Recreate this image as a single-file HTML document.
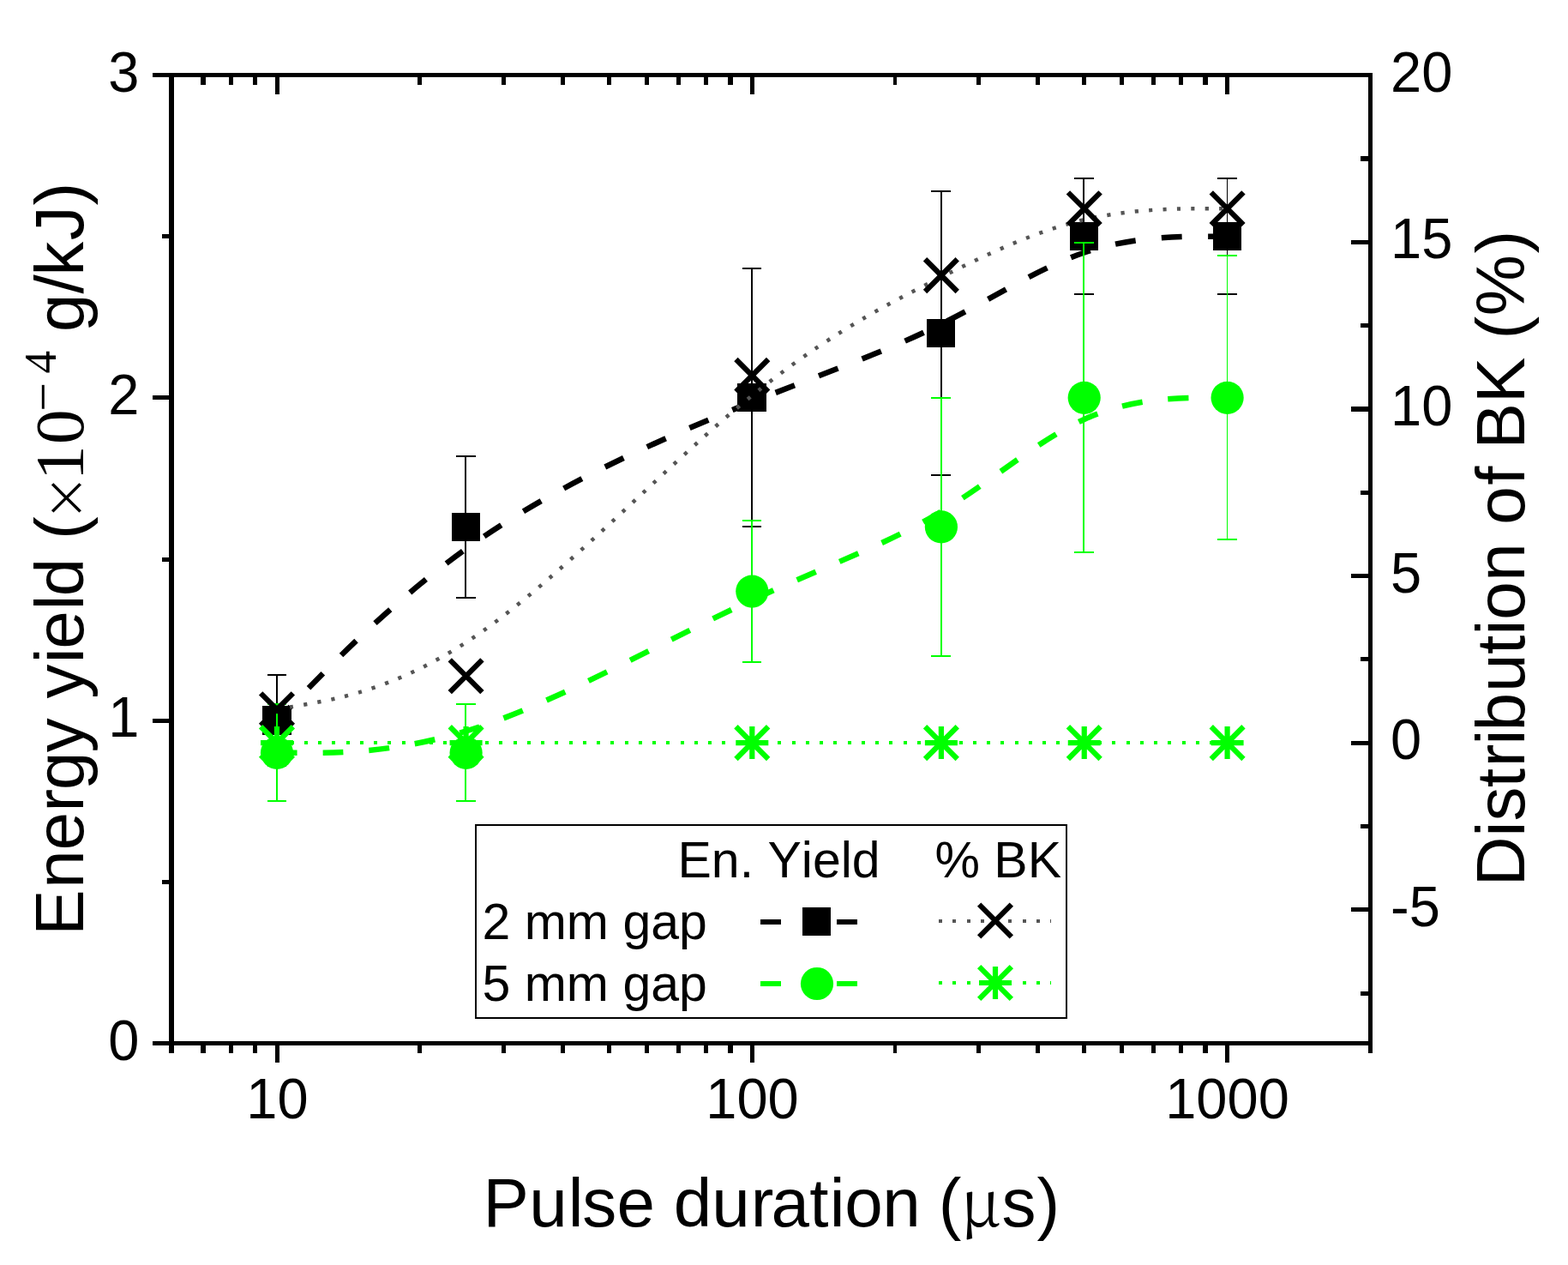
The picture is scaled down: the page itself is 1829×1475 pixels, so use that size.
<!DOCTYPE html>
<html lang="en">
<head>
<meta charset="utf-8">
<title>Energy yield and distribution of BK vs pulse duration</title>
<style>
html,body{margin:0;padding:0;background:#fff;}
body{width:1829px;height:1475px;overflow:hidden;}
svg{display:block;}
text{font-kerning:none;font-variant-ligatures:none;}
</style>
</head>
<body>
<svg width="1829" height="1475" viewBox="0 0 1829 1475" role="img" aria-label="Energy yield and distribution of BK versus pulse duration">
<rect width="1829" height="1475" fill="#fff"/>
<g id="series-2mm-yield">
<path d="M323.00,840.17C323.00,840.17 323.00,840.17 359.76,802.53C396.53,764.90 470.05,689.63 562.44,626.91C654.82,564.19 766.06,514.01 858.44,476.38C950.83,438.74 1024.35,413.66 1088.93,382.29C1153.50,350.93 1209.12,313.30 1264.74,294.48C1320.36,275.67 1375.98,275.67 1403.79,275.67C1431.60,275.67 1431.60,275.67 1431.60,275.67" fill="none" stroke="#000" stroke-width="6.5" stroke-dasharray="24 30.21" stroke-dashoffset="1.2"/>
<path d="M322,787H324V893H322ZM312,786H334V788H312ZM312,892H334V894H312ZM542,532H544V697H542ZM532,531H555V533H532ZM532,696H555V698H532ZM876,313H878V614H876ZM866,312H888V314H866ZM866,613H888V615H866ZM1097,223H1099V554H1097ZM1086,222H1109V224H1086ZM1086,553H1109V555H1086ZM1263,208H1265V343H1263ZM1253,207H1276V209H1253ZM1253,342H1276V344H1253ZM1431,208H1432V343H1431ZM1420,207H1443V209H1420ZM1420,342H1443V344H1420Z" fill="#000" shape-rendering="crispEdges"/>
<rect x="306" y="823" width="34" height="34" fill="#000" shape-rendering="crispEdges"/>
<rect x="527" y="598" width="33" height="33" fill="#000" shape-rendering="crispEdges"/>
<rect x="860" y="447" width="34" height="33" fill="#000" shape-rendering="crispEdges"/>
<rect x="1081" y="372" width="33" height="33" fill="#000" shape-rendering="crispEdges"/>
<rect x="1248" y="259" width="33" height="33" fill="#000" shape-rendering="crispEdges"/>
<rect x="1415" y="259" width="33" height="33" fill="#000" shape-rendering="crispEdges"/>
</g>
<g id="series-5mm-yield">
<path d="M323.00,877.80C323.00,877.80 323.00,877.80 359.76,877.80C396.53,877.80 470.05,877.80 562.44,846.44C654.82,815.08 766.06,752.36 858.44,708.45C950.83,664.54 1024.35,639.46 1088.93,601.82C1153.50,564.19 1209.12,514.01 1264.74,488.92C1320.36,463.83 1375.98,463.83 1403.79,463.83C1431.60,463.83 1431.60,463.83 1431.60,463.83" fill="none" stroke="#00ff00" stroke-width="6.5" stroke-dasharray="24 30" stroke-dashoffset="0.3"/>
<path d="M322,821H324V934H322ZM312,820H334V822H312ZM312,933H334V935H312ZM542,821H544V934H542ZM532,820H555V822H532ZM532,933H555V935H532ZM876,607H878V772H876ZM866,606H888V608H866ZM866,771H888V773H866ZM1097,464H1099V765H1097ZM1086,463H1109V465H1086ZM1086,764H1109V766H1086ZM1263,283H1265V644H1263ZM1253,282H1276V284H1253ZM1253,643H1276V645H1253ZM1431,298H1432V629H1431ZM1420,297H1443V299H1420ZM1420,628H1443V630H1420Z" fill="#00ff00" shape-rendering="crispEdges"/>
<circle cx="323.0" cy="877.8" r="19.1" fill="#00ff00"/>
<circle cx="543.6" cy="877.8" r="19.1" fill="#00ff00"/>
<circle cx="877.3" cy="689.6" r="19.1" fill="#00ff00"/>
<circle cx="1097.9" cy="614.4" r="19.1" fill="#00ff00"/>
<circle cx="1264.7" cy="463.8" r="19.1" fill="#00ff00"/>
<circle cx="1431.6" cy="463.8" r="19.1" fill="#00ff00"/>
</g>
<g id="series-2mm-bk">
<path d="M323.00,827.19C323.00,827.19 323.00,827.19 359.76,820.70C396.53,814.21 470.05,801.24 562.44,736.35C654.82,671.47 766.06,554.67 858.44,476.81C950.83,398.95 1024.35,360.02 1088.93,327.57C1153.50,295.13 1209.12,269.18 1264.74,256.20C1320.36,243.22 1375.98,243.22 1403.79,243.22C1431.60,243.22 1431.60,243.22 1431.60,243.22" fill="none" stroke="#555555" stroke-width="4.5" stroke-dasharray="4.2 12.175" stroke-dashoffset="1.0"/>
<path d="M304.15,808.34L341.85,846.04M304.15,846.04L341.85,808.34" stroke="#000" stroke-width="6.2" fill="none"/>
<path d="M524.73,769.41L562.43,807.11M524.73,807.11L562.43,769.41" stroke="#000" stroke-width="6.2" fill="none"/>
<path d="M858.45,419.03L896.15,456.73M858.45,456.73L896.15,419.03" stroke="#000" stroke-width="6.2" fill="none"/>
<path d="M1079.03,302.24L1116.73,339.94M1079.03,339.94L1116.73,302.24" stroke="#000" stroke-width="6.2" fill="none"/>
<path d="M1245.89,224.37L1283.59,262.07M1245.89,262.07L1283.59,224.37" stroke="#000" stroke-width="6.2" fill="none"/>
<path d="M1412.75,224.37L1450.45,262.07M1412.75,262.07L1450.45,224.37" stroke="#000" stroke-width="6.2" fill="none"/>
</g>
<g id="series-5mm-bk">
<path d="M323.0,866.1L1431.6,866.1" fill="none" stroke="#00ff00" stroke-width="4" stroke-dasharray="4 12.25" stroke-dashoffset="0.6" shape-rendering="crispEdges"/>
<path d="M304.15,847.27L341.85,884.97M304.15,884.97L341.85,847.27M304.00,866.12h38M323.00,847.12v38" stroke="#00ff00" stroke-width="6.2" fill="none"/>
<path d="M524.73,847.27L562.43,884.97M524.73,884.97L562.43,847.27M524.58,866.12h38M543.58,847.12v38" stroke="#00ff00" stroke-width="6.2" fill="none"/>
<path d="M858.45,847.27L896.15,884.97M858.45,884.97L896.15,847.27M858.30,866.12h38M877.30,847.12v38" stroke="#00ff00" stroke-width="6.2" fill="none"/>
<path d="M1079.03,847.27L1116.73,884.97M1079.03,884.97L1116.73,847.27M1078.88,866.12h38M1097.88,847.12v38" stroke="#00ff00" stroke-width="6.2" fill="none"/>
<path d="M1245.89,847.27L1283.59,884.97M1245.89,884.97L1283.59,847.27M1245.74,866.12h38M1264.74,847.12v38" stroke="#00ff00" stroke-width="6.2" fill="none"/>
<path d="M1412.75,847.27L1450.45,884.97M1412.75,884.97L1450.45,847.27M1412.60,866.12h38M1431.60,847.12v38" stroke="#00ff00" stroke-width="6.2" fill="none"/>
</g>
<g id="legend">
<rect x="555" y="962" width="689" height="225" fill="#fff" stroke="#000" stroke-width="2" shape-rendering="crispEdges"/>
<g font-family="'Liberation Sans', Arial, Helvetica, sans-serif" font-size="59" fill="#000">
<text x="790.5" y="1023">En. Yield</text>
<text x="1090.5" y="1023">% BK</text>
<text x="562.5" y="1095">2 mm gap</text>
<text x="562.5" y="1167">5 mm gap</text>
</g>
<path d="M887,1075h24M976,1075h24" stroke="#000" stroke-width="6" fill="none" shape-rendering="crispEdges"/>
<rect x="936" y="1058" width="33" height="33" fill="#000" shape-rendering="crispEdges"/>
<path d="M887,1147h24M976,1147h24" stroke="#00ff00" stroke-width="6" fill="none" shape-rendering="crispEdges"/>
<circle cx="953.0" cy="1147.0" r="19.1" fill="#00ff00"/>
<path d="M1095,1074H1226.2" stroke="#555555" stroke-width="4" stroke-dasharray="4 12.25" fill="none" shape-rendering="crispEdges"/>
<path d="M1142.15,1054.65L1179.85,1092.35M1142.15,1092.35L1179.85,1054.65" stroke="#000" stroke-width="6.2" fill="none"/>
<path d="M1095,1146H1226.2" stroke="#00ff00" stroke-width="4" stroke-dasharray="4 12.25" fill="none" shape-rendering="crispEdges"/>
<path d="M1142.15,1127.15L1179.85,1164.85M1142.15,1164.85L1179.85,1127.15M1142.00,1146.00h38M1161.00,1127.00v38" stroke="#00ff00" stroke-width="6.2" fill="none"/>
</g>
<g id="axes" fill="#000" shape-rendering="crispEdges">
<path d="M178,85H1601V90H178ZM178,1214H1601V1219H178ZM197,85H203V1228H197ZM1596,85H1601V1228H1596ZM234,1214H240V1228H234ZM234,85H240V99H234ZM267,1214H272V1228H267ZM267,85H272V99H267ZM295,1214H300V1228H295ZM295,85H300V99H295ZM321,1214H326V1239H321ZM321,85H326V110H321ZM487,1214H492V1228H487ZM487,85H492V99H487ZM585,1214H590V1228H585ZM585,85H590V99H585ZM654,1214H659V1228H654ZM654,85H659V99H654ZM708,1214H713V1228H708ZM708,85H713V99H708ZM752,1214H757V1228H752ZM752,85H757V99H752ZM789,1214H794V1228H789ZM789,85H794V99H789ZM821,1214H826V1228H821ZM821,85H826V99H821ZM849,1214H855V1228H849ZM849,85H855V99H849ZM875,1214H880V1239H875ZM875,85H880V110H875ZM1042,1214H1046V1228H1042ZM1042,85H1046V99H1042ZM1139,1214H1144V1228H1139ZM1139,85H1144V99H1139ZM1208,1214H1213V1228H1208ZM1208,85H1213V99H1208ZM1262,1214H1267V1228H1262ZM1262,85H1267V99H1262ZM1306,1214H1311V1228H1306ZM1306,85H1311V99H1306ZM1343,1214H1348V1228H1343ZM1343,85H1348V99H1343ZM1375,1214H1380V1228H1375ZM1375,85H1380V99H1375ZM1403,1214H1409V1228H1403ZM1403,85H1409V99H1403ZM1429,1214H1434V1239H1429ZM1429,85H1434V110H1429ZM178,1214H200V1219H178ZM189,1026H200V1031H189ZM178,838H200V843H178ZM189,650H200V655H189ZM178,461H200V466H178ZM189,273H200V278H189ZM178,85H200V90H178ZM1587,1156H1598V1161H1587ZM1576,1058H1598V1063H1576ZM1587,961H1598V966H1587ZM1576,864H1598V869H1576ZM1587,766H1598V771H1587ZM1576,669H1598V674H1576ZM1587,572H1598V577H1587ZM1576,474H1598V480H1576ZM1587,377H1598V382H1587ZM1576,280H1598V285H1576ZM1587,182H1598V188H1587ZM1576,85H1598V90H1576Z"/>
</g>
<g font-family="'Liberation Sans', Arial, Helvetica, sans-serif" font-size="65" fill="#000" transform="scale(1,1.035)">
<text x="162.5" y="1194.0" text-anchor="end">0</text>
<text x="162.5" y="830.4" text-anchor="end">1</text>
<text x="162.5" y="466.8" text-anchor="end">2</text>
<text x="162.5" y="103.2" text-anchor="end">3</text>
<text x="323.5" y="1259.9" text-anchor="middle">10</text>
<text x="877.5" y="1259.9" text-anchor="middle">100</text>
<text x="1431.5" y="1259.9" text-anchor="middle">1000</text>
<text x="1622.0" y="103.2">20</text>
<text x="1622.0" y="291.3">15</text>
<text x="1622.0" y="479.3">10</text>
<text x="1622.0" y="667.4">5</text>
<text x="1622.0" y="855.5">0</text>
<text x="1622.0" y="1043.6">-5</text>
</g>
<g font-family="'Liberation Sans', Arial, Helvetica, sans-serif" font-size="80" fill="#000">
<text xml:space="preserve"><tspan x="563.5 617.2 662.7 679.2 719.6 763.4 785.7 830.3 875.7 899.4 944.3 967.7 985.3 1029.2 1072.6 1094.8" y="1430">Pulse duration (</tspan><tspan x="1120.3" y="1430" font-family="'Noto Serif CJK SC', 'Liberation Serif', serif" font-size="75">µ</tspan><tspan x="1168.5 1209.6" y="1430">s)</tspan></text>
<text transform="translate(1778,0) rotate(-90)" xml:space="preserve"><tspan x="-1033.3 -975.5 -957.6 -918.3 -894.2 -868.4 -852.4 -807.0 -763.1 -740.5 -722.7 -677.7 -634.0 -611.8 -565.8 -545.6 -523.4 -469.9 -417.7 -395.5 -368.2 -295.6" y="0">Distribution of BK (%)</tspan></text>
<text transform="translate(97,0) rotate(-90)" xml:space="preserve"><tspan x="-1090.7 -1035.8 -991.5 -946.4 -920.9 -877.3 -836.7 -814.5 -773.3 -756.7 -711.4 -695.3 -651.2 -629.0" y="0">Energy yield (</tspan><tspan x="-605.3" y="9.8" font-family="'Liberation Serif', 'Times New Roman', Times, serif" font-size="88" stroke="#fff" stroke-width="0.9">×</tspan><tspan x="-559.9 -518.0" y="0" font-family="'Liberation Serif', 'Times New Roman', Times, serif" font-size="81">10</tspan><tspan x="-479.8" y="-26.6" font-family="'Liberation Serif', 'Times New Roman', Times, serif" font-size="60">−</tspan><tspan x="-435.4" y="-32" font-family="'Liberation Serif', 'Times New Roman', Times, serif" font-size="53">4</tspan><tspan x="-409.2 -387.0 -342.6 -321.7 -280.3 -239.4" y="0"> g/kJ)</tspan></text>
</g>
</svg>
</body>
</html>
